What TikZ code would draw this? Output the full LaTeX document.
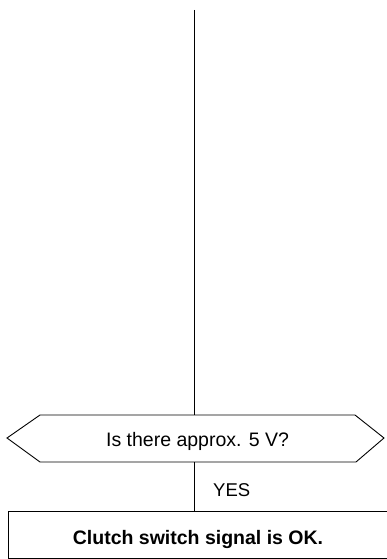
\documentclass[tikz,border=0pt]{standalone}
\usepackage{fontspec}
\setmainfont{Liberation Sans}
\begin{document}
\begin{tikzpicture}[x=1pt,y=1pt,
  lin/.style={draw=black,line width=0.9pt},
  txt/.style={inner sep=0pt,anchor=base,font=\fontsize{19.5}{22}\selectfont},
  btxt/.style={inner sep=0pt,anchor=base,font=\fontsize{19.5}{22}\selectfont\bfseries}]
\useasboundingbox (0,0) rectangle (386,-559);
% decision hexagon
\draw[lin] (7,-438) -- (40,-415) -- (355,-415) -- (384,-438) -- (356,-462) -- (40,-462) -- cycle;
\node[txt] (q) at (197.5,-446.7) {Is there approx. 5 V?};
\coordinate (qtop) at (194.5,-415);
\coordinate (qbot) at (194.5,-462);
\coordinate (start) at (194.5,-10);
% result box
\draw[lin] (392,-511) -- (8,-511) -- (8,-558) -- (392,-558);
\coordinate (rtop) at (194.5,-511);
\node[btxt] (r) at (198,-544.3) {Clutch switch signal is OK.};
% label
\node[txt,anchor=base west,font=\fontsize{18.5}{22}\selectfont] (yes) at (213,-496.7) {YES};
% connectors
\draw[lin] (start) -- (qtop);
\draw[lin] (qbot) -- (rtop);
\end{tikzpicture}
\end{document}
